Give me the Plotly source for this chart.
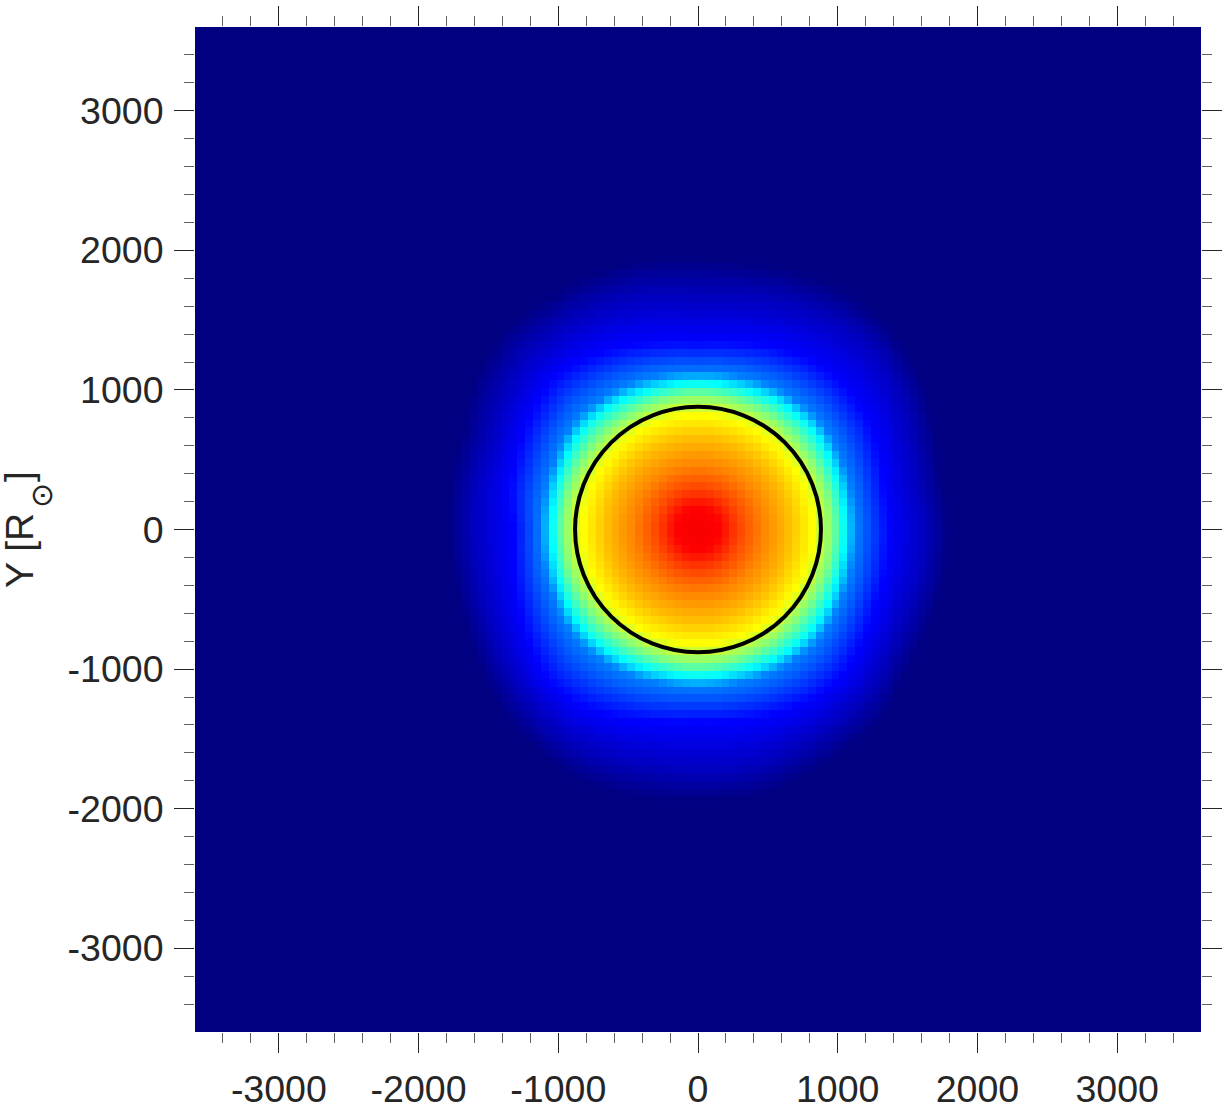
import numpy as np
import plotly.graph_objects as go

# Axis
x_ticks = [-3000, -2000, -1000, 0, 1000, 2000, 3000]
y_ticks = [-3000, -2000, -1000, 0, 1000, 2000, 3000]
tick_text = ["-3000", "-2000", "-1000", "0", "1000", "2000", "3000"]
minor_ticks = [v for v in range(-3400, 3401, 200) if v % 1000 != 0]
axis_limit = [-3600, 3600]
cell_count = 128
ring_radius = 880

# Colour values (0..1 on the jet scale) and the radius at which each is reached
inner_levels = [0.885, 0.875, 0.81, 0.75, 0.6875, 0.625, 0.5]
inner_radii = [0, 150, 290, 450, 660, 820, 960]
outer_levels = [0.375, 0.25, 0.125, 0.0625, 0.0]
directions_deg = [0, 11.25, 22.5, 33.75, 45, 56.25, 67.5, 78.75, 90, 101.25, 112.5, 123.75, 135, 146.25, 157.5, 168.75,
                  180, 191.25, 202.5, 213.75, 225, 236.25, 247.5, 258.75, 270, 281.25, 292.5, 303.75, 315, 326.25, 337.5, 348.75]
outer_r_0375 = [1050, 1050, 1060, 1075, 1090, 1080, 1060, 1050, 1050, 1050, 1060, 1080, 1095, 1080, 1060, 1050,
                1050, 1050, 1060, 1080, 1090, 1080, 1060, 1050, 1050, 1050, 1060, 1080, 1090, 1075, 1060, 1050]
outer_r_025 = [1130, 1130, 1140, 1155, 1170, 1160, 1145, 1130, 1120, 1130, 1145, 1160, 1175, 1160, 1140, 1130,
               1125, 1130, 1140, 1160, 1170, 1160, 1145, 1130, 1125, 1130, 1145, 1160, 1170, 1155, 1140, 1130]
outer_r_0125 = [1370, 1360, 1400, 1450, 1470, 1460, 1420, 1370, 1340, 1370, 1420, 1470, 1500, 1450, 1400, 1370,
                1310, 1340, 1390, 1460, 1530, 1520, 1460, 1410, 1380, 1400, 1430, 1470, 1470, 1420, 1380, 1370]
outer_r_006 = [1620, 1600, 1650, 1730, 1790, 1780, 1730, 1680, 1650, 1700, 1730, 1740, 1750, 1680, 1610, 1610,
               1600, 1590, 1620, 1670, 1720, 1760, 1750, 1720, 1720, 1730, 1710, 1690, 1680, 1620, 1600, 1620]
outer_r_000 = [1800, 1790, 1840, 1940, 2000, 2020, 1990, 1950, 1950, 1980, 1980, 1990, 2000, 1930, 1830, 1800,
               1790, 1780, 1800, 1860, 1930, 1980, 2000, 1970, 1950, 1960, 1930, 1910, 1890, 1820, 1800, 1800]

jet = [[0, "#000080"], [0.125, "#0000ff"], [0.375, "#00ffff"], [0.625, "#ffff00"], [0.875, "#ff0000"], [1, "#800000"]]
ink = "#262626"

cell_size = (axis_limit[1] - axis_limit[0]) / cell_count
centers = axis_limit[0] + cell_size * (np.arange(cell_count) + 0.5)
X, Y = np.meshgrid(centers, centers)
R = np.hypot(X, Y)
TH = np.degrees(np.arctan2(Y, X)) % 360
wrap = directions_deg + [360]
outer_tables = [np.interp(TH, wrap, t + t[:1]) for t in (outer_r_0375, outer_r_025, outer_r_0125, outer_r_006, outer_r_000)]
z = np.zeros_like(R)
for i in range(R.shape[0]):
    for j in range(R.shape[1]):
        rr = inner_radii + [float(t[i, j]) for t in outer_tables]
        z[i, j] = np.interp(R[i, j], rr, inner_levels + outer_levels, right=0.0)

fig = go.Figure(go.Heatmap(x=centers, y=centers, z=z.round(3), colorscale=jet, zmin=0, zmax=1,
                           showscale=False, zsmooth=False, hoverinfo="skip"))
fig.add_shape(type="circle", xref="x", yref="y", x0=-ring_radius, x1=ring_radius, y0=-ring_radius, y1=ring_radius,
              line=dict(color="black", width=4))

axis_style = dict(range=axis_limit, showgrid=False, zeroline=False, showline=False, mirror="allticks", automargin=False,
                  ticks="outside", ticklen=20, tickwidth=1, tickcolor=ink,
                  minor=dict(tickmode="array", tickvals=minor_ticks, ticks="outside", ticklen=10, tickwidth=1,
                             tickcolor="#606060", showgrid=False),
                  tickfont=dict(family="Liberation Sans", size=37.5, color=ink))
fig.update_xaxes(tickmode="array", tickvals=x_ticks, ticktext=tick_text, ticklabelstandoff=4, **axis_style)
fig.update_yaxes(tickmode="array", tickvals=y_ticks, ticktext=tick_text, ticklabelstandoff=3, **axis_style)

title_font = dict(family="Liberation Sans", size=39, color=ink)
for text, px, py, font in [("Y [R", 19, 551, title_font), ("]", 19, 477, title_font),
                           ("⊙", 41, 496, dict(family="DejaVu Sans", size=30, color=ink))]:
    fig.add_annotation(xref="paper", yref="paper", x=(px - 195) / 1006, y=(1032 - py) / 1005, xanchor="center",
                       yanchor="middle", textangle=-90, showarrow=False, text=text, font=font)
fig.update_layout(width=1224, height=1104, margin=dict(l=195, r=23, t=27, b=72), paper_bgcolor="white",
                  plot_bgcolor="white", showlegend=False)
fig.write_html("out.html", config=dict(displayModeBar=False), post_script="document.body.style.margin='0';")
